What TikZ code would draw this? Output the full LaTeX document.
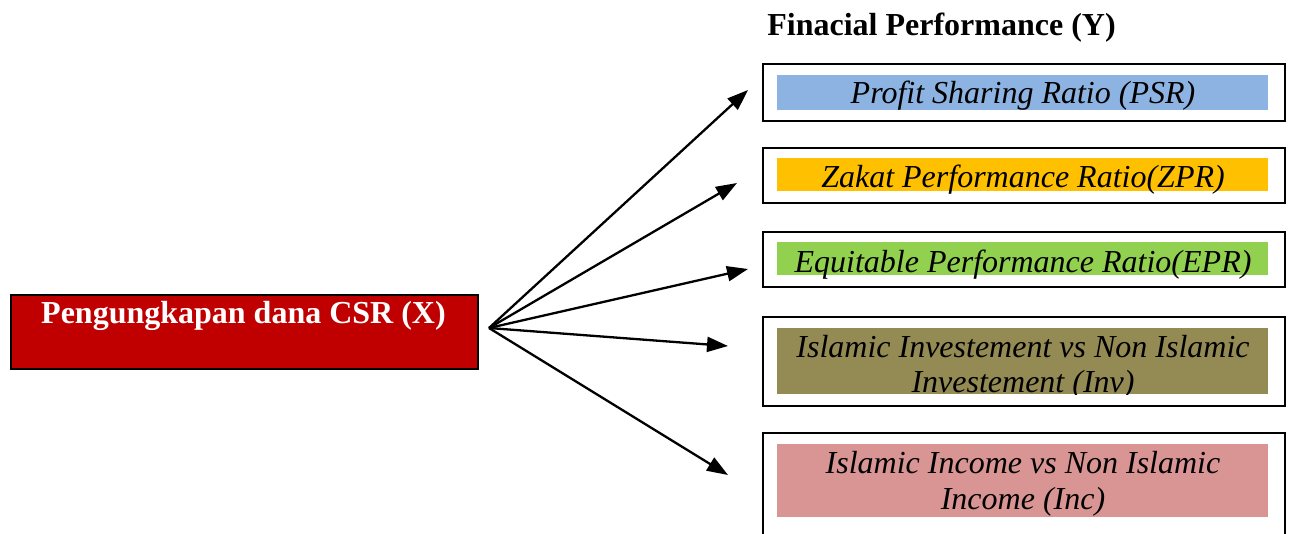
\documentclass[tikz,border=0pt]{standalone}
\usepackage{fontspec}
\setmainfont{Liberation Serif}
\usetikzlibrary{arrows.meta}
\definecolor{csrred}{HTML}{C00000}
\definecolor{psrblue}{HTML}{8DB3E2}
\definecolor{zprorange}{HTML}{FFC000}
\definecolor{eprgreen}{HTML}{92D050}
\definecolor{involive}{HTML}{948A54}
\definecolor{incpink}{HTML}{D99594}
\tikzset{
  outerbox/.style={draw=black, line width=2pt, minimum width=522pt, inner sep=0pt, anchor=north west},
  innerfill/.style={inner sep=0pt, minimum width=491pt, anchor=north west},
  itxt/.style={font=\fontsize{32}{35}\selectfont\itshape, anchor=base, inner sep=0pt},
  conn/.style={line width=2.3pt, -{Triangle[length=21pt,width=15pt]}},
}
\begin{document}
\begin{tikzpicture}[x=1pt,y=-1pt]
\useasboundingbox (0,0) rectangle (1289,533);
% title
\node[font=\fontsize{32}{35}\selectfont\bfseries, anchor=base, inner sep=0pt] (title) at (941.5,35) {Finacial Performance (Y)};
% source box
\node[draw=black, line width=2pt, fill=csrred, minimum width=467pt, minimum height=74pt, inner sep=0pt, anchor=north west] (csr) at (10,294) {};
\node[font=\fontsize{32}{35}\selectfont\bfseries, text=white, anchor=base, inner sep=0pt] (csrtext) at (243.5,323) {Pengungkapan dana CSR (X)};
% box 1
\node[outerbox, minimum height=57pt] (b1) at (762,63) {};
\node[innerfill, fill=psrblue, minimum height=35pt] (f1) at (777,75) {};
\node[itxt] (t1) at (1023,103) {Profit Sharing Ratio (PSR)};
% box 2
\node[outerbox, minimum height=55pt] (b2) at (762,147) {};
\node[innerfill, fill=zprorange, minimum height=33pt] (f2) at (777,158) {};
\node[itxt] (t2) at (1023,187) {Zakat Performance Ratio(ZPR)};
% box 3
\node[outerbox, minimum height=55pt] (b3) at (762,231) {};
\node[innerfill, fill=eprgreen, minimum height=33pt] (f3) at (777,242) {};
\node[itxt] (t3) at (1023,272) {Equitable Performance Ratio(EPR)};
% box 4
\node[outerbox, minimum height=89pt] (b4) at (762,316) {};
\node[innerfill, fill=involive, minimum height=66pt] (f4) at (777,328) {};
\begin{scope}
\clip (f4.north west) rectangle (f4.south east);
\node[itxt] (t4a) at (1023,357) {Islamic Investement vs Non Islamic};
\node[itxt] (t4b) at (1023,392) {Investement (Inv)};
\end{scope}
% box 5
\node[outerbox, minimum height=110pt] (b5) at (762,432) {};
\node[innerfill, fill=incpink, minimum height=73pt] (f5) at (777,444) {};
\node[itxt] (t5a) at (1023,473) {Islamic Income vs Non Islamic};
\node[itxt] (t5b) at (1023,509) {Income (Inc)};
% connectors
\coordinate (src) at (489,328);
\coordinate (e1) at (748,90);
\coordinate (e2) at (737,183);
\coordinate (e3) at (748,269);
\coordinate (e4) at (728,346);
\coordinate (e5) at (728,475);
\draw[conn] (src) -- (e1);
\draw[conn] (src) -- (e2);
\draw[conn] (src) -- (e3);
\draw[conn] (src) -- (e4);
\draw[conn] (src) -- (e5);
\end{tikzpicture}
\end{document}
